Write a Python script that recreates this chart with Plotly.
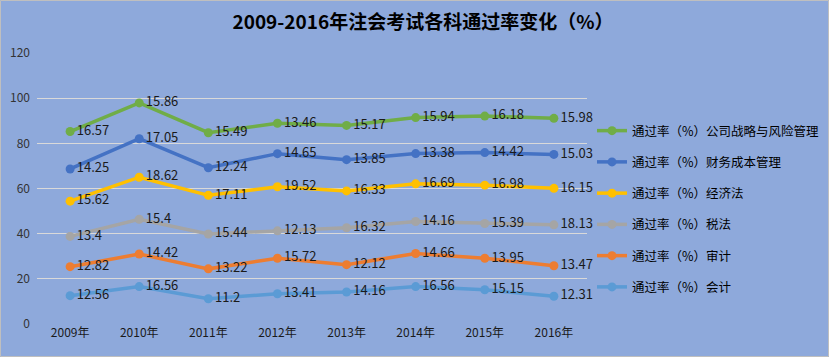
import plotly.graph_objects as go
import numpy as np

years = ["2009年", "2010年", "2011年", "2012年", "2013年", "2014年", "2015年", "2016年"]

# bottom to top (stacked)
kuaiji = [12.56, 16.56, 11.2, 13.41, 14.16, 16.56, 15.15, 12.31]
shenji = [12.82, 14.42, 13.22, 15.72, 12.12, 14.66, 13.95, 13.47]
shuifa = [13.4, 15.4, 15.44, 12.13, 16.32, 14.16, 15.39, 18.13]
jingjifa = [15.62, 18.62, 17.11, 19.52, 16.33, 16.69, 16.98, 16.15]
caiwu = [14.25, 17.05, 12.24, 14.65, 13.85, 13.38, 14.42, 15.03]
zhanlue = [16.57, 15.86, 15.49, 13.46, 15.17, 15.94, 16.18, 15.98]

names = ["通过率（%）会计", "通过率（%）审计", "通过率（%）税法",
         "通过率（%）经济法", "通过率（%）财务成本管理", "通过率（%）公司战略与风险管理"]
series = [kuaiji, shenji, shuifa, jingjifa, caiwu, zhanlue]
colors = ["#5B9BD5", "#ED7D31", "#A5A5A5", "#FFC000", "#4472C4", "#70AD47"]

W, H = 829, 357
L, R, T, B = 37, 242, 53, 33

fig = go.Figure()
cum = np.zeros(len(years))
n = len(names)
for i, (nm, vals, c) in enumerate(zip(names, series, colors)):
    cum = cum + np.array(vals)
    fig.add_trace(go.Scatter(
        x=years, y=cum.copy(), name=nm, mode="lines+markers+text",
        line=dict(color=c, width=3.5), marker=dict(color=c, size=9),
        text=[f"{v:g}" for v in vals], textposition="middle right",
        textfont=dict(size=13, color="#1a1a1a", family="Noto Sans CJK SC"),
        legendgroup=f"g{i}", legendrank=n - i, cliponaxis=False,
    ))

pw = W - L - R
ph = H - T - B
def px2x(p): return (p - L) / pw
def py2y(p): return (H - B - p) / ph

fig.add_shape(type="rect", xref="paper", yref="paper",
              x0=px2x(0.5), x1=px2x(W - 0.5), y0=py2y(H - 0.5), y1=py2y(0.5),
              line=dict(color="#BFBFBF", width=1), fillcolor="rgba(0,0,0,0)", layer="below")

fig.update_layout(
    width=W, height=H,
    margin=dict(l=L, r=R, t=T, b=B, autoexpand=False),
    paper_bgcolor="#8EA9DB", plot_bgcolor="#8EA9DB",
    font=dict(family="Noto Sans CJK SC", color="#1a1a1a"),
    title=dict(text="<b>2009-2016年注会考试各科通过率变化（%）</b>",
               x=423 / W, xanchor="center", y=1 - 22 / H, yanchor="middle",
               yref="container", automargin=False,
               font=dict(size=19, color="#000000", family="Noto Sans CJK SC")),
    xaxis=dict(showgrid=False, zeroline=False, showline=False, ticks="",
               automargin=False,
               tickfont=dict(size=12, color="#1a1a1a")),
    yaxis=dict(range=[0, 120], dtick=20, showgrid=True, gridcolor="#D9D9D9",
               gridwidth=1, zeroline=False, showline=False, ticks="",
               automargin=False, ticklabelstandoff=6,
               tickfont=dict(size=12, color="#333333")),
    legend=dict(x=px2x(592), y=py2y(116), xanchor="left", yanchor="top",
                traceorder="grouped", tracegroupgap=12,
                font=dict(size=12.5, color="#000000"), bgcolor="rgba(0,0,0,0)",
                itemwidth=30),
    showlegend=True,
)

fig.write_html("out.html", config={"displayModeBar": False},
               post_script="document.body.style.margin='0';document.body.style.padding='0';")
